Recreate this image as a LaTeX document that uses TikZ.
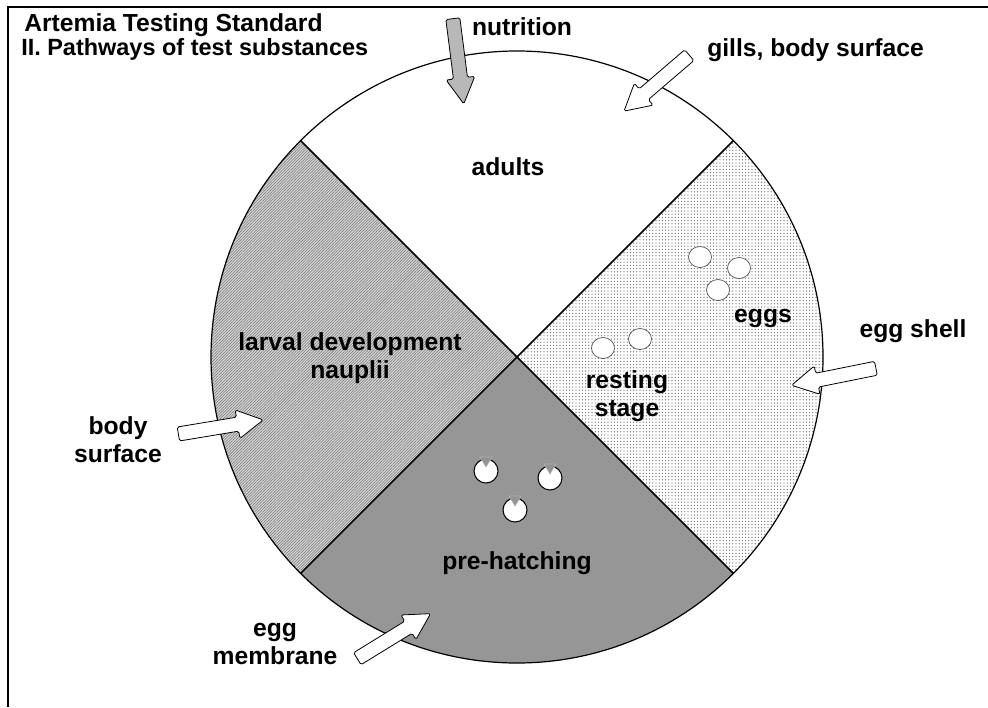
\documentclass[tikz,border=0pt]{standalone}
\usepackage{fontspec}
\setmainfont{Liberation Sans}
\usetikzlibrary{shapes.arrows,patterns.meta}

\definecolor{prehatch}{gray}{0.59}
\definecolor{larvalbg}{gray}{0.84}
\definecolor{foodgray}{gray}{0.72}

\begin{document}
\begin{tikzpicture}[x=0.75pt, y=-0.75pt,
    lbl/.style={font=\fontsize{18.5}{21}\selectfont\bfseries, align=center, inner sep=0pt},
    inarrow/.style={single arrow, draw, line width=0.6pt, inner xsep=0pt, inner ysep=5pt,
        minimum height=64.5pt, single arrow head extend=5.5pt,
        single arrow tip angle=58, rounded corners=1.2pt, fill=white},
    restegg/.style={draw=black!70, fill=white, line width=0.5pt},
    hatchegg/.style={draw=black, fill=white, line width=0.8pt}]
    \useasboundingbox (0,0) rectangle (988,707);
    \draw[line width=1.6pt] (988,7) -- (8,7) -- (8,707);

    % the four stages
    \coordinate (c) at (517,357);
    \path[fill=white] (c) -- ++(-45:306) arc[start angle=-45, end angle=-135, radius=306] -- cycle;
    \path[preaction={fill=white}, pattern={Dots[distance=2.4pt, radius=0.5pt]}, pattern color=black!55]
        (c) -- ++(45:306) arc[start angle=45, end angle=-45, radius=306] -- cycle;
    \path[fill=prehatch] (c) -- ++(135:306) arc[start angle=135, end angle=45, radius=306] -- cycle;
    \path[preaction={fill=larvalbg}, pattern={Lines[angle=45, distance=1.5pt, line width=0.4pt]}, pattern color=black!55]
        (c) -- ++(225:306) arc[start angle=225, end angle=135, radius=306] -- cycle;
    \draw[line width=0.9pt] (c) circle[radius=306];
    \draw[line width=1.1pt] (c) +(-45:306) -- +(135:306);
    \draw[line width=1.1pt] (c) +(45:306) -- +(-135:306);

    % eggs
    \foreach \ex/\ey in {700/257, 739/268, 718/290, 603/348, 640/339}
        \filldraw[restegg] (\ex,\ey) ellipse[x radius=11.5, y radius=10.5];
    \foreach \ex/\ey in {486/471, 550/478, 515/510} {
        \filldraw[hatchegg] (\ex,\ey) circle[radius=12];
        \filldraw[fill=gray!85, draw=gray!60] (\ex-6,\ey-14) -- (\ex+6,\ey-14) -- (\ex,\ey-4) -- cycle;
    }

    % labels
    \node[lbl, anchor=base west] (title) at (24,31) {Artemia Testing Standard};
    \node[lbl, anchor=base west, font=\fontsize{17.6}{20}\selectfont\bfseries] (subtitle) at (21,55) {II. Pathways of test substances};
    \node[lbl] (adults) at (508,167) {adults};
    \node[lbl] (larval) at (350,358) {larval development\\nauplii};
    \node[lbl] (eggs) at (763,318) {eggs};
    \node[lbl] (resting) at (627,396) {resting\\stage};
    \node[lbl] (prehatching) at (517,563) {pre-hatching};
    \node[lbl] (nutrition) at (522,27) {nutrition};
    \node[lbl, anchor=west] (gills) at (707,50) {gills, body surface};
    \node[lbl] (eggshell) at (913,331) {egg shell};
    \node[lbl] (bodysurf) at (118,440) {body\\surface};
    \node[lbl] (eggmemb) at (275,644) {egg\\membrane};

    % pathways in
    \node[inarrow, fill=foodgray, rotate=-82.7] (nutarrow) at (457.5,55) {};
    \node[inarrow, rotate=220.6] (gillarrow) at (661.5,79) {};
    \node[inarrow, rotate=191.4] (shellarrow) at (840,375.5) {};
    \node[inarrow, rotate=9.4] (bodyarrow) at (214.5,428) {};
    \node[inarrow, rotate=31.6] (membarrow) at (388.5,639.5) {};
\end{tikzpicture}
\end{document}
